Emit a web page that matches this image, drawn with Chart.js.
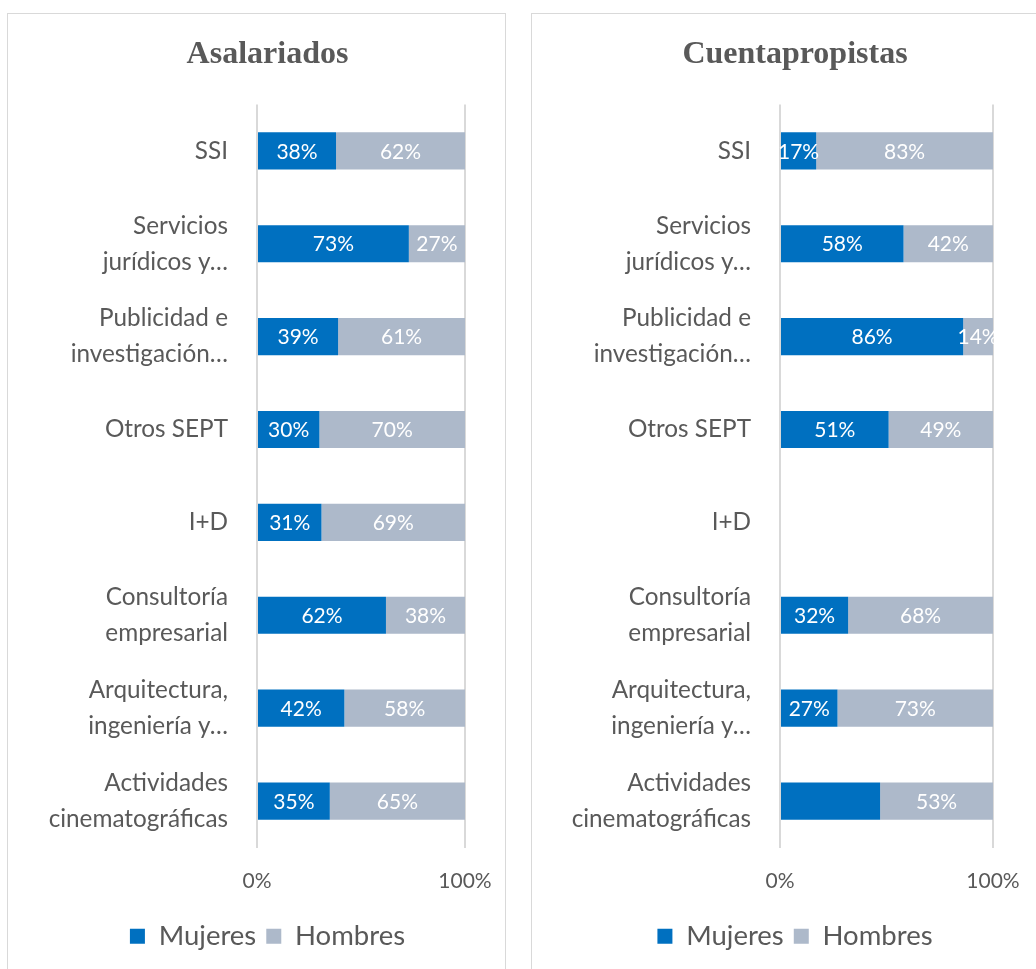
<!DOCTYPE html>
<html lang="es">
<head>
<meta charset="utf-8">
<title>Asalariados y Cuentapropistas por sexo</title>
<script src="https://cdn.jsdelivr.net/npm/chart.js@4.4.1/dist/chart.umd.min.js"></script>
<style>
  html, body { margin: 0; padding: 0; background: #fff; overflow: hidden; }
  body { width: 1036px; height: 969px; position: relative; }
  .panel {
    position: absolute;
    top: 13px;
    height: 980px;
    border: 1px solid #d9d9d9;
    background: #fff;
  }
  #panelAsal { left: 7px; width: 497px; }
  #panelCta { left: 531px; width: 510px; }
  .panel canvas { position: absolute; left: 0; top: 0; }
</style>
</head>
<body>
<div class="panel" id="panelAsal"><canvas id="chartAsal" width="497" height="955"></canvas></div>
<div class="panel" id="panelCta"><canvas id="chartCta" width="504" height="955"></canvas></div>

<script>
  // Categorías (de arriba a abajo)
  const categorias = [
    'SSI',
    ['Servicios', 'jurídicos y…'],
    ['Publicidad e', 'investigación…'],
    'Otros SEPT',
    'I+D',
    ['Consultoría', 'empresarial'],
    ['Arquitectura,', 'ingeniería y…'],
    ['Actividades', 'cinematográficas']
  ];

  // Asalariados (%)
  const asalMujeres = [38, 73, 39, 30, 31, 62, 42, 35];
  const asalHombres = [62, 27, 61, 70, 69, 38, 58, 65];

  // Cuentapropistas (%)
  const ctaMujeres = [17, 58, 86, 51, 0, 32, 27, 47];
  const ctaHombres = [83, 42, 14, 49, 0, 68, 73, 53];
  // etiquetas que no aparecen en el original (índices)
  const ctaMujeresSinEtiqueta = [7];

  const xTicks = [0, 100];

  const COLORS = {
    mujeres: '#0070C0',
    hombres: '#ADB9CA',
    text: '#595959',
    grid: '#D9D9D9'
  };

  const FONT = 'Lato, "Open Sans", sans-serif';

  // Plugin simple para etiquetas de datos dentro de las barras
  const etiquetasBarras = {
    id: 'etiquetasBarras',
    afterDatasetsDraw(chart) {
      const ctx = chart.ctx;
      ctx.save();
      ctx.font = '21px ' + FONT;
      ctx.fillStyle = '#FFFFFF';
      ctx.textAlign = 'center';
      ctx.textBaseline = 'middle';
      chart.data.datasets.forEach((ds, di) => {
        const meta = chart.getDatasetMeta(di);
        const ocultos = ds.sinEtiqueta || [];
        meta.data.forEach((bar, i) => {
          const v = ds.data[i];
          if (!v || ocultos.includes(i)) return;
          const cx = (bar.x + bar.base) / 2;
          ctx.fillText(v + '%', cx, bar.y + 1);
        });
      });
      ctx.restore();
    }
  };

  // El eje Y ocupa desde el borde del canvas (las etiquetas largas no se recortan)
  const ejeYCompleto = {
    id: 'ejeYCompleto',
    afterLayout(chart) {
      chart.scales.y.left = 0;
    }
  };

  function crearGrafico(id, titulo, mujeres, hombres, sinEtiqueta, cfg) {
    const ctx = document.getElementById(id);
    return new Chart(ctx, {
      type: 'bar',
      data: {
        labels: categorias,
        datasets: [
          {
            label: 'Mujeres',
            data: mujeres,
            backgroundColor: COLORS.mujeres,
            sinEtiqueta: sinEtiqueta
          },
          {
            label: 'Hombres',
            data: hombres,
            backgroundColor: COLORS.hombres
          }
        ]
      },
      plugins: [etiquetasBarras, ejeYCompleto],
      options: {
        indexAxis: 'y',
        responsive: false,
        animation: false,
        barPercentage: 0.8,
        categoryPercentage: 0.5,
        layout: {
          padding: { left: cfg.padIzq, right: cfg.padDer, top: 0, bottom: 9 }
        },
        plugins: {
          title: {
            display: true,
            text: titulo,
            color: COLORS.text,
            font: { family: '"Liberation Serif", "Times New Roman", serif', size: 32, weight: 'bold' },
            padding: { top: 22, bottom: 30 }
          },
          legend: {
            position: 'bottom',
            labels: {
              color: COLORS.text,
              font: { family: FONT, size: 27.5 },
              boxWidth: 15,
              boxHeight: 15,
              padding: 10
            }
          },
          tooltip: { enabled: false }
        },
        scales: {
          x: {
            stacked: true,
            min: 0,
            max: 100,
            afterBuildTicks(scale) {
              scale.ticks = xTicks.map(v => ({ value: v }));
            },
            afterFit(scale) {
              scale.height = 65;
              scale.paddingLeft = 0;
              scale.paddingRight = 0;
            },
            grid: {
              color: COLORS.grid,
              lineWidth: 2,
              drawTicks: false
            },
            border: { display: false },
            ticks: {
              color: COLORS.text,
              font: { family: FONT, size: 21 },
              padding: 21,
              callback: v => v + '%'
            }
          },
          y: {
            stacked: true,
            afterFit(scale) {
              scale.width = cfg.anchoEje;
            },
            grid: { display: false },
            border: { display: false },
            ticks: {
              color: COLORS.text,
              font: { family: FONT, size: 24.3, lineHeight: 1.48 },
              padding: 21
            }
          }
        }
      }
    });
  }

  crearGrafico('chartAsal', 'Asalariados', asalMujeres, asalHombres, [],
    { padIzq: 62, anchoEje: 187, padDer: 40 });
  crearGrafico('chartCta', 'Cuentapropistas', ctaMujeres, ctaHombres, ctaMujeresSinEtiqueta,
    { padIzq: 65, anchoEje: 183, padDer: 43 });
</script>
</body>
</html>
